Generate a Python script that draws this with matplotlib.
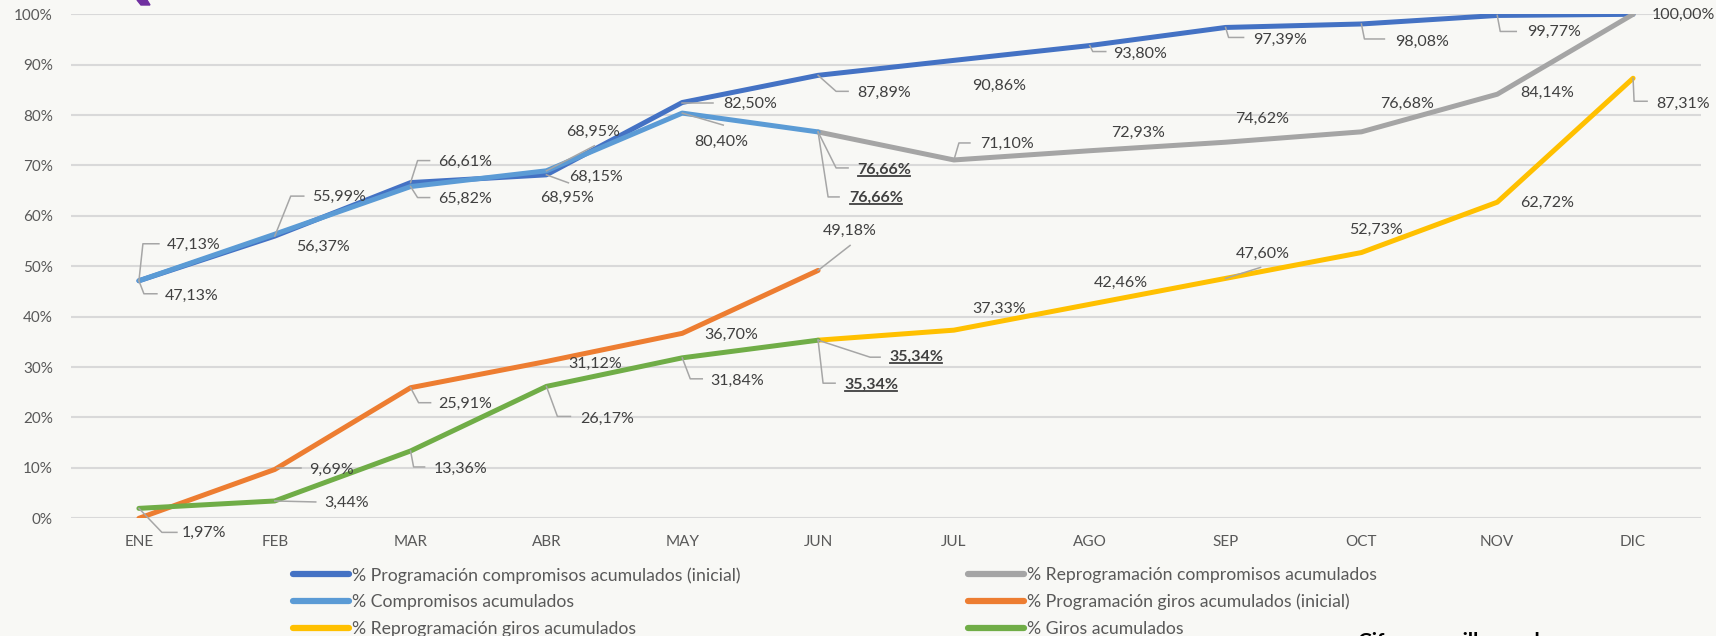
import numpy as np
import matplotlib
matplotlib.use('Agg')
import matplotlib.pyplot as plt
import matplotlib.transforms as mtransforms
from matplotlib.lines import Line2D
from matplotlib.patches import Polygon

plt.rcParams['font.family'] = ['Lato', 'DejaVu Sans']

nan = np.nan
months = ['ENE', 'FEB', 'MAR', 'ABR', 'MAY', 'JUN', 'JUL', 'AGO', 'SEP', 'OCT', 'NOV', 'DIC']
prog_comp = [47.13, 55.99, 66.61, 68.15, 82.50, 87.89, 90.86, 93.80, 97.39, 98.08, 99.77, 100.00]
reprog_comp = [nan, nan, nan, nan, nan, 76.66, 71.10, 72.93, 74.62, 76.68, 84.14, 100.00]
comp_acum = [47.13, 56.37, 65.82, 68.95, 80.40, 76.66, nan, nan, nan, nan, nan, nan]
prog_giros = [0.00, 9.69, 25.91, 31.12, 36.70, 49.18, nan, nan, nan, nan, nan, nan]
reprog_giros = [nan, nan, nan, nan, nan, 35.34, 37.33, 42.46, 47.60, 52.73, 62.72, 87.31]
giros = [1.97, 3.44, 13.36, 26.17, 31.84, 35.34, nan, nan, nan, nan, nan, nan]

names = {
    'prog_comp': '% Programación compromisos acumulados (inicial)',
    'reprog_comp': '% Reprogramación compromisos acumulados',
    'comp_acum': '% Compromisos acumulados',
    'prog_giros': '% Programación giros acumulados (inicial)',
    'reprog_giros': '% Reprogramación giros acumulados',
    'giros': '% Giros acumulados',
}
values = {'prog_comp': prog_comp, 'reprog_comp': reprog_comp, 'comp_acum': comp_acum,
          'prog_giros': prog_giros, 'reprog_giros': reprog_giros, 'giros': giros}
colors = {'prog_comp': '#4472C4', 'reprog_comp': '#A5A5A5', 'comp_acum': '#5B9BD5',
          'prog_giros': '#ED7D31', 'reprog_giros': '#FFC000', 'giros': '#70AD47'}
draw_order = ['prog_comp', 'reprog_comp', 'comp_acum', 'prog_giros', 'reprog_giros', 'giros']

# data labels: series, month index, text offset (px), leader vertices (px), bold+underline
labels = [
    ('prog_comp', 0, (28, 36), [(0, 0), (4, 37), (20, 37)], False),
    ('comp_acum', 0, (26, -15), [(0, 0), (5, -13), (18, -13)], False),
    ('prog_comp', 1, (37, 39), [(0, 0), (16, 40), (29, 40)], False),
    ('comp_acum', 1, (21, -13), None, False),
    ('prog_comp', 2, (28, 21), [(0, 0), (7, 22), (19, 22)], False),
    ('comp_acum', 2, (28, -12), [(0, 0), (7, -11), (19, -11)], False),
    ('prog_comp', 3, (23, -2), [(0, 0), (22, -8)], False),
    ('comp_acum', 3, (-6, -27), None, False),
    ('comp_acum', 3, (20, 39), [(0, 0), (48, 25)], False),
    ('prog_comp', 4, (41, -1), [(0, 0), (31, 0)], False),
    ('comp_acum', 4, (12, -29), [(0, 0), (41, -12)], False),
    ('prog_comp', 5, (39, -18), [(0, 0), (18, -16), (30, -16)], False),
    ('comp_acum', 5, (39, -38), [(0, 0), (18, -36), (30, -36)], True),
    ('reprog_comp', 5, (31, -66), [(0, 0), (10, -65), (21, -65)], True),
    ('prog_comp', 6, (18, -26), None, False),
    ('reprog_comp', 6, (26, 16), [(0, 0), (5, 17), (16, 17)], False),
    ('prog_comp', 7, (23, -8), [(0, 0), (3, -6), (16, -6)], False),
    ('reprog_comp', 7, (21, 18), None, False),
    ('prog_comp', 8, (28, -12), [(0, 0), (3, -10), (18, -10)], False),
    ('reprog_comp', 8, (10, 23), None, False),
    ('prog_comp', 9, (34, -18), [(0, 0), (3, -15), (23, -15)], False),
    ('reprog_comp', 9, (19, 28), None, False),
    ('prog_comp', 10, (30, -16), [(0, 0), (3, -16), (19, -16)], False),
    ('reprog_comp', 10, (23, 1), None, False),
    ('reprog_comp', 11, (19, -1), None, False),
    ('reprog_giros', 6, (18, 21), None, False),
    ('reprog_giros', 7, (4, 21), None, False),
    ('reprog_giros', 8, (10, 25), [(0, 0), (35, 11)], False),
    ('reprog_giros', 9, (-12, 23), None, False),
    ('reprog_giros', 10, (23, -1), None, False),
    ('reprog_giros', 11, (23, -26), [(0, 0), (1, -23), (14, -23)], False),
    ('reprog_giros', 5, (71, -17), [(0, 0), (52, -17), (62, -17)], True),
    ('giros', 0, (43, -25), [(0, 0), (23, -24), (38, -24)], False),
    ('giros', 1, (50, -2), [(0, 0), (41, -1)], False),
    ('giros', 2, (23, -18), [(0, 0), (3, -16), (14, -16)], False),
    ('giros', 3, (34, -32), [(0, 0), (11, -30), (24, -30)], False),
    ('giros', 4, (28, -23), [(0, 0), (8, -21), (20, -21)], False),
    ('giros', 5, (26, -45), [(0, 0), (5, -43), (17, -43)], True),
    ('prog_giros', 1, (34, 0), [(2, 1), (26, 1)], False),
    ('prog_giros', 2, (28, -16), [(0, 0), (8, -15), (20, -15)], False),
    ('prog_giros', 3, (22, -2), None, False),
    ('prog_giros', 4, (22, -2), None, False),
    ('prog_giros', 5, (5, 40), [(0, 0), (32, 25)], False),
]

bg = '#F8F8F5'
fig = plt.figure(figsize=(17.16, 6.36), dpi=100, facecolor=bg)
ax = fig.add_axes([71 / 1716, (636 - 518.3) / 636, 1630 / 1716, 504 / 636])
ax.set_facecolor(bg)

x = np.arange(len(months))
lines = {}
for z, key in enumerate(draw_order):
    (ln,) = ax.plot(x, np.array(values[key]) / 100, color=colors[key], lw=3.6,
                    solid_capstyle='round', solid_joinstyle='round', zorder=3 + z * 0.1,
                    label=names[key])
    lines[key] = ln

ax.set_xlim(-0.5, len(months) - 0.5)
ax.set_ylim(0, 1)
ax.set_yticks(np.arange(0, 1.01, 0.1))
ax.set_yticklabels([f'{int(round(v * 100))}%' for v in np.arange(0, 1.01, 0.1)])
ax.set_xticks(x)
ax.set_xticklabels(months)
ax.tick_params(axis='both', length=0, colors='#595959', labelsize=11)
ax.tick_params(axis='y', pad=13)
ax.tick_params(axis='x', pad=12)
ax.grid(axis='y', color='#D9D9D9', lw=1.5, zorder=0)
ax.set_axisbelow(True)
for s in ax.spines.values():
    s.set_visible(False)

underlined = []
for key, i, (dx, dy), leader, bold in labels:
    v = values[key][i]
    txt = f'{v:.2f}%'.replace('.', ',')
    t = ax.annotate(txt, xy=(i, v / 100), xytext=(dx, dy), textcoords='offset pixels',
                    ha='left', va='center', fontsize=11.5, color='#404040',
                    fontweight='bold' if bold else 'normal', zorder=6, annotation_clip=False)
    if bold:
        underlined.append(t)
    if leader:
        tr = mtransforms.ScaledTranslation(i, v / 100, ax.transData)
        lx, ly = zip(*leader)
        ax.add_line(Line2D(lx, ly, transform=tr, color='#A6A6A6', lw=1.1,
                           clip_on=False, zorder=5))

# legend, two columns
col1 = ['prog_comp', 'comp_acum', 'reprog_giros']
col2 = ['reprog_comp', 'prog_giros', 'giros']
leg_kw = dict(frameon=False, fontsize=12.7, handlelength=3.2, handletextpad=0.15,
              labelspacing=0.6, borderpad=0, borderaxespad=0, loc='upper left',
              labelcolor='#595959')
leg1 = fig.legend([lines[k] for k in col1], [names[k] for k in col1],
                  bbox_to_anchor=(293 / 1716, 1 - 567 / 636), **leg_kw)
leg2 = fig.legend([lines[k] for k in col2], [names[k] for k in col2],
                  bbox_to_anchor=(968 / 1716, 1 - 567 / 636), **leg_kw)
for lg in (leg1, leg2):
    for h in lg.legend_handles:
        h.set_linewidth(4.5)
        h.set_solid_capstyle('round')

# cut-off note at the bottom and logo fragment at the top
fig.text(1358 / 1716, 3.5 / 636, 'Cifras en millones de pesos', fontsize=15,
         fontweight='bold', color='#000000', va='top', ha='left')
fig.add_artist(Polygon([(137 / 1716, 1), (147 / 1716, 1), (150 / 1716, 1 - 5 / 636),
                        (141 / 1716, 1 - 5 / 636)], closed=True, transform=fig.transFigure,
                       color='#7030A0'))

fig.canvas.draw()
renderer = fig.canvas.get_renderer()
for t in underlined:
    bb = t.get_window_extent(renderer)
    fig.add_artist(Line2D([bb.x0 + 1, bb.x1 - 1], [bb.y0 + 1, bb.y0 + 1],
                          transform=mtransforms.IdentityTransform(), color='#404040', lw=1.3))

fig.savefig('out.png', dpi=100, facecolor=bg)
